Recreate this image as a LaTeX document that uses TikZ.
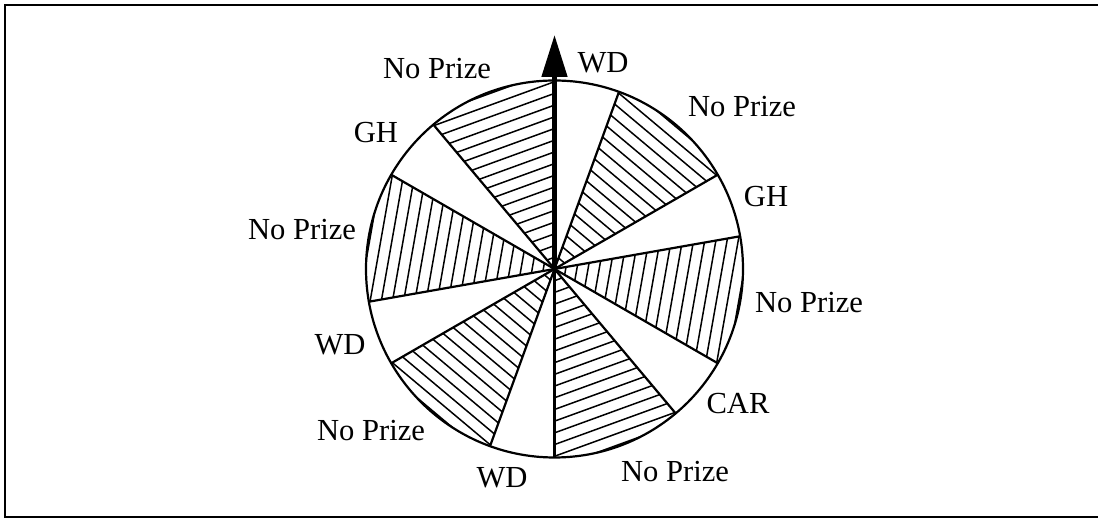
\documentclass[tikz,border=0pt]{standalone}
\usepackage{fontspec}
\setmainfont{Liberation Serif}
\usetikzlibrary{arrows.meta,calc}
\begin{document}
\begin{tikzpicture}[x=0.5pt,y=0.5pt,
  lbl/.style={anchor=base,inner sep=0pt,font=\fontsize{15.3}{18}\selectfont},
  edge/.style={line width=1.1pt},
  hatch/.style={line width=0.75pt},
  pointer/.style={line width=2.4pt,-{Triangle[length=21pt,width=12.5pt]}}]
\useasboundingbox (0,0) rectangle (1098,518);
% frame
\draw[edge] (1098,513) -- (5,513) -- (5,1) -- (1098,1);
\coordinate (C) at (554.5,249);
\def\R{188.5}
% hatched sectors
\foreach \a in {90,30,-30,-90,-150,-210}{
  \begin{scope}
  \clip (C) -- ++(\a:\R) arc[start angle=\a, end angle=\a+40, radius=\R] -- cycle;
  \pgfmathsetmacro\m{\a+20}
  \foreach \k in {1,...,17}{
     \draw[hatch] ($(C)+(\m:\k*11)+(\m+90:200)$) -- ($(C)+(\m:\k*11)+(\m-90:200)$);
  }
  \end{scope}
}
% sector boundaries
\foreach \a in {70,30,10,-30,-50,-90,-110,-150,-170,150,130}
  \draw[edge] (C) -- ++(\a:\R);
\draw[edge] (C) circle[radius=\R];
% pointer
\coordinate (tip) at (554.5,483);
\draw[pointer] (C) -- (tip);
% labels
\node[lbl] (l1) at (437,439) {No Prize};
\node[lbl] (l2) at (603,445.5) {WD};
\node[lbl] (l3) at (742,401.5) {No Prize};
\node[lbl] (l4) at (766,311.5) {GH};
\node[lbl] (l5) at (809,205.5) {No Prize};
\node[lbl] (l6) at (738,104.5) {CAR};
\node[lbl] (l7) at (675,36.5) {No Prize};
\node[lbl] (l8) at (502,30.5) {WD};
\node[lbl] (l9) at (371,77.5) {No Prize};
\node[lbl] (l10) at (340,163.5) {WD};
\node[lbl] (l11) at (302,278.5) {No Prize};
\node[lbl] (l12) at (376,375.5) {GH};
\end{tikzpicture}
\end{document}
